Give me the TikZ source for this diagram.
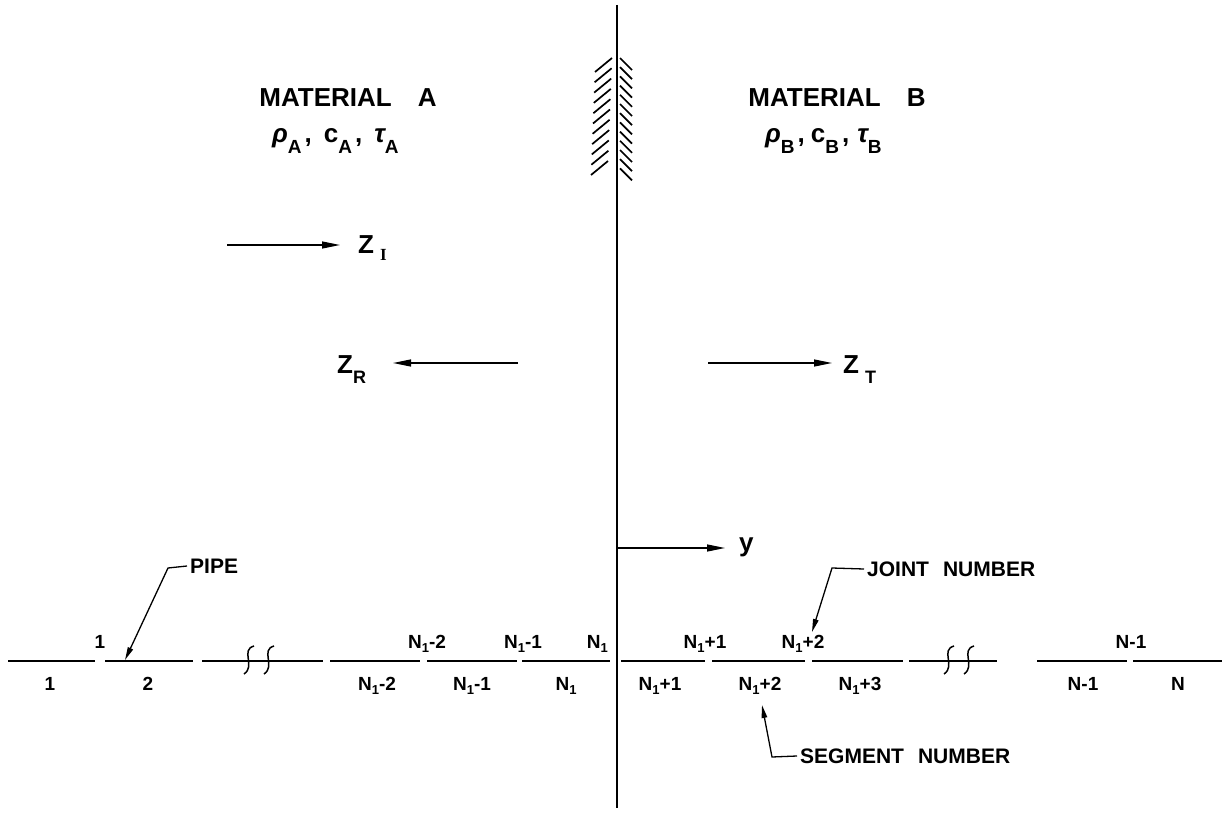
\documentclass[tikz,border=0pt]{standalone}
\usepackage{fontspec}
\setmainfont{Liberation Sans}
\newfontfamily\serifI{Liberation Serif}
\usetikzlibrary{arrows.meta}
\newcommand\lsub[1]{\raisebox{-10pt}{\fontsize{19}{19}\selectfont #1}}
\newcommand\ssub[1]{\raisebox{-4pt}{\fontsize{13}{13}\selectfont #1}}
\newcommand\Nsub{N\ssub{1}}
\begin{document}
\begin{tikzpicture}[x=1pt,y=-1pt,
  big/.style={font=\fontsize{26}{26}\selectfont\bfseries, inner sep=0pt},
  small/.style={font=\fontsize{19}{19}\selectfont\bfseries, inner sep=0pt, anchor=base},
  lead/.style={font=\fontsize{21}{21}\selectfont\bfseries, inner sep=0pt, anchor=west},
  pipeline/.style={line width=2.6pt},
  wave/.style={line width=1.3pt, -{Triangle[length=18pt,width=7pt]}},
  leader/.style={line width=1.3pt, -{Triangle[length=13pt,width=5.5pt]}},
  hatch/.style={line width=1.7pt},
  squig/.style={line width=1.5pt}]
\useasboundingbox (0,0) rectangle (1225,813);
% interface
\coordinate (itop) at (617,5);
\coordinate (ibot) at (617,808);
\draw[line width=2.6pt] (itop) -- (ibot);
% hatching
\foreach \i in {0,...,10} {
  \draw[hatch] (595-0.4*\i,72+10.3*\i) -- ++(17,-14);
}
\foreach \i in {0,...,12} {
  \draw[hatch] (620,58+9.2*\i) -- ++(12,12);
}
% materials
\node[big, anchor=base] (matA) at (348,107) {MATERIAL\hspace{26pt}A};
\node[big, anchor=base west] (propA) at (272,143) {\itshape ρ\upshape\lsub{A}\hspace{3pt},\hspace{12pt}c\lsub{A}\hspace{3pt},\hspace{12pt}\itshape τ\upshape\lsub{A}};
\node[big, anchor=base] (matB) at (837,107) {MATERIAL\hspace{26pt}B};
\node[big, anchor=base west] (propB) at (765,143) {\itshape ρ\upshape\lsub{B}\hspace{3pt},\hspace{6pt}c\lsub{B}\hspace{3pt},\hspace{8pt}\itshape τ\upshape\lsub{B}};
% waves
\node[big, anchor=base west] (ZI) at (358,253) {Z\hspace{6pt}\raisebox{-7pt}{\fontsize{17}{17}\selectfont\serifI\bfseries I}};
\coordinate (zIa) at (227,245); \coordinate (zIb) at (340,245);
\draw[wave] (zIa) -- (zIb);
\node[big, anchor=base west] (ZR) at (337,373) {Z\raisebox{-10pt}{\fontsize{18}{18}\selectfont R}};
\coordinate (zRa) at (518,363); \coordinate (zRb) at (393,363);
\draw[wave] (zRa) -- (zRb);
\node[big, anchor=base west] (ZT) at (843,373) {Z\hspace{6pt}\raisebox{-10pt}{\fontsize{18}{18}\selectfont T}};
\coordinate (zTa) at (708,363); \coordinate (zTb) at (832,363);
\draw[wave] (zTa) -- (zTb);
% y axis
\coordinate (ya) at (617,548); \coordinate (yb) at (725,548);
\draw[wave] (ya) -- (yb);
\node[big, anchor=base west] (ylab) at (739,551) {y};
% pipe segments
\foreach \a/\b in {8/95,105/193,202/323,330/420,427/517,522/610,621/705,712/805,812/903,909/997,1037/1127,1133/1222} {
  \draw[pipeline] (\a,661) -- (\b,661);
}
% break marks
\foreach \x in {246,266,946,966} {
  \draw[squig] (\x+8,646) .. controls (\x-6,650) and (\x+10,666) .. (\x-2,674);
}
% joint numbers
\node[small] (j1) at (100,648) {1};
\node[small] (j2) at (427,648) {\Nsub-2};
\node[small] (j3) at (523,648) {\Nsub-1};
\node[small, anchor=base east] (j4) at (608,648) {\Nsub};
\node[small] (j5) at (705,648) {\Nsub+1};
\node[small] (j6) at (803,648) {\Nsub+2};
\node[small] (j7) at (1131,648) {N-1};
% segment numbers
\node[small] (s1) at (50,690) {1};
\node[small] (s2) at (148,690) {2};
\node[small] (s3) at (377,690) {\Nsub-2};
\node[small] (s4) at (472,690) {\Nsub-1};
\node[small] (s5) at (566,690) {\Nsub};
\node[small] (s6) at (660,690) {\Nsub+1};
\node[small] (s7) at (760,690) {\Nsub+2};
\node[small] (s8) at (860,690) {\Nsub+3};
\node[small] (s9) at (1083,690) {N-1};
\node[small] (s10) at (1178,690) {N};
% leaders
\node[lead] (pipe) at (190,566) {PIPE};
\coordinate (pk) at (168,568); \coordinate (pt) at (125,660);
\draw[leader] ([xshift=-3pt]pipe.west) -- (pk) -- (pt);
\node[lead] (joint) at (867,569) {JOINT\hspace{14pt}NUMBER};
\coordinate (jk) at (832,568); \coordinate (jt) at (812,632);
\draw[leader] ([xshift=-3pt]joint.west) -- (jk) -- (jt);
\node[lead] (seg) at (800,756) {SEGMENT\hspace{14pt}NUMBER};
\coordinate (sk) at (772,757); \coordinate (st) at (762,705);
\draw[leader] ([xshift=-3pt]seg.west) -- (sk) -- (st);
\end{tikzpicture}
\end{document}
